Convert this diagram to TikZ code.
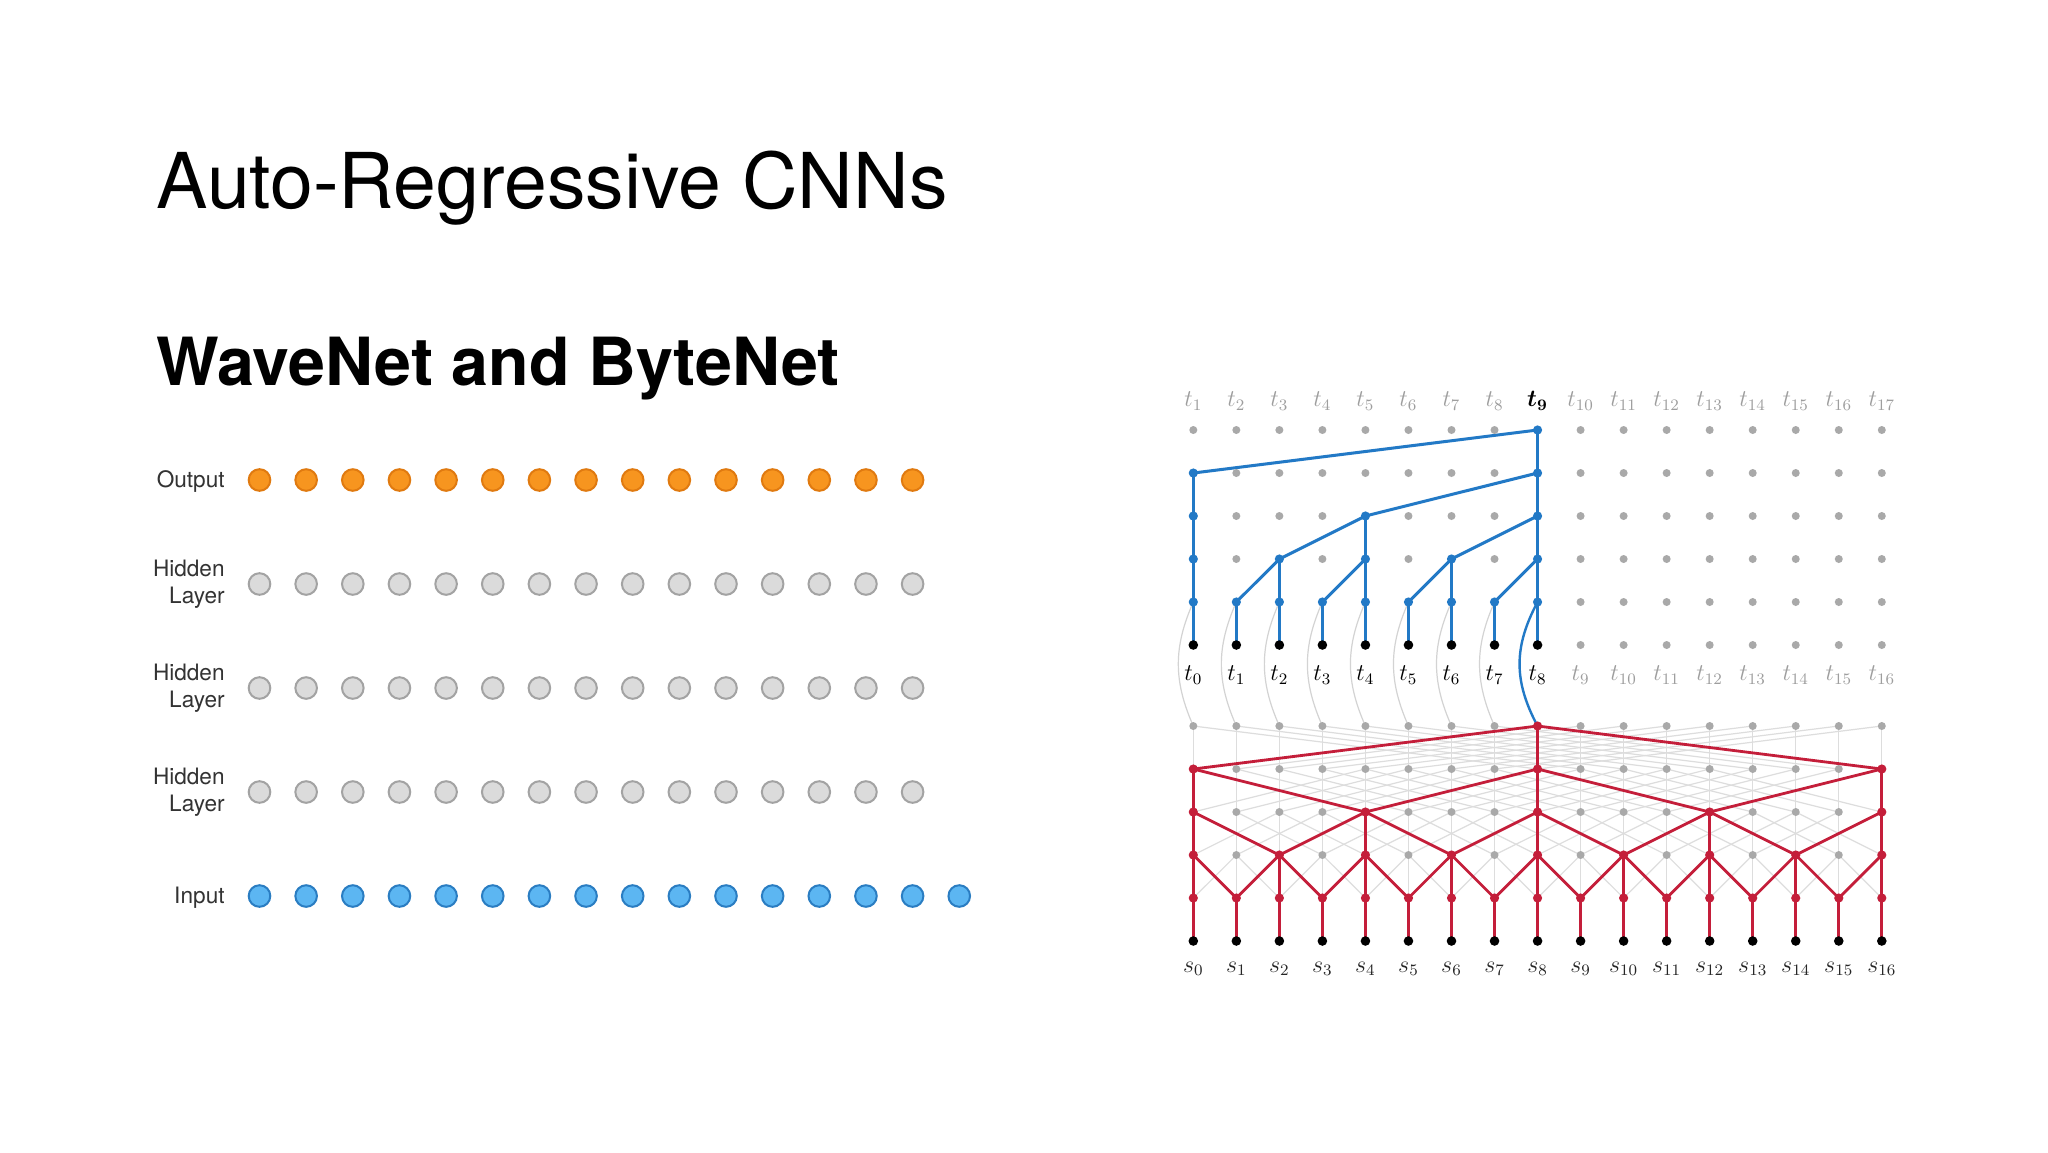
\documentclass[tikz,border=0pt]{standalone}
\usepackage{fontspec}
\setsansfont{TeX Gyre Heros}
\usepackage{bm}
\pgfdeclarelayer{lat}
\pgfdeclarelayer{col}
\pgfdeclarelayer{paper}
\pgfsetlayers{paper,lat,col,main}
\definecolor{ofill}{HTML}{F7951F}
\definecolor{odraw}{HTML}{E07A10}
\definecolor{gfill}{HTML}{DBDBDB}
\definecolor{gdraw}{HTML}{A3A3A3}
\definecolor{bfill}{HTML}{5CB6F2}
\definecolor{bdraw}{HTML}{2A7DC2}
\definecolor{wblue}{HTML}{2279C6}
\definecolor{bred}{HTML}{C41E3A}
\definecolor{dotgrey}{HTML}{A9A9A9}
\definecolor{latgrey}{HTML}{DDDDDD}
\definecolor{curvegrey}{HTML}{D3D3D3}
\definecolor{lbltext}{HTML}{333333}
\definecolor{lblgrey}{HTML}{9E9E9E}
\begin{document}
\begin{tikzpicture}[x=0.5pt,y=-0.5pt,
  lbl/.style={font=\fontsize{11.3}{13.5}\selectfont\sffamily, text=lbltext, inner sep=0pt},
  obig/.style={circle, minimum size=10.8pt, inner sep=0pt, line width=1pt, fill=ofill, draw=odraw},
  gbig/.style={obig, fill=gfill, draw=gdraw},
  ibig/.style={obig, fill=bfill, draw=bdraw},
  gdot/.style={circle, minimum size=4pt, inner sep=0pt, fill=dotgrey},
  bdot/.style={circle, minimum size=4.6pt, inner sep=0pt, fill=wblue},
  rdot/.style={circle, minimum size=4.6pt, inner sep=0pt, fill=bred},
  kdot/.style={circle, minimum size=4.8pt, inner sep=0pt, fill=black},
  mlbl/.style={font=\fontsize{12}{14}\selectfont, inner sep=0pt},
  bline/.style={wblue, line width=1.5pt},
  rline/.style={bred, line width=1.4pt},
  latline/.style={latgrey, line width=0.6pt},
  crv/.style={curvegrey, line width=0.6pt},
]
\begin{pgfonlayer}{paper}
\fill[white] (0,0) rectangle (2048,1152);
\end{pgfonlayer}
\useasboundingbox (0,0) rectangle (2048,1152);

% titles
\node[anchor=base west, inner sep=0pt, font=\fontsize{38.5}{44}\selectfont\sffamily] (title) at (156,208) {Auto-Regressive CNNs};
\node[anchor=base west, inner sep=0pt, font=\fontsize{33.2}{38}\selectfont\sffamily\bfseries] (subtitle) at (156,385) {WaveNet and ByteNet};

% ---------- left: WaveNet layers ----------
\foreach \k in {0,...,14}{
  \node[obig] (out\k) at ({259.5+46.65*\k},480) {};
  \node[gbig] (ha\k) at ({259.5+46.65*\k},584) {};
  \node[gbig] (hb\k) at ({259.5+46.65*\k},688) {};
  \node[gbig] (hc\k) at ({259.5+46.65*\k},792) {};
}
\foreach \k in {0,...,15}{
  \node[ibig] (inp\k) at ({259.5+46.65*\k},896) {};
}
\node[lbl, anchor=base east] (lout) at (225,487) {Output};
\node[lbl, anchor=east, align=right] (lha) at (225,584) {Hidden\\Layer};
\node[lbl, anchor=east, align=right] (lhb) at (225,688) {Hidden\\Layer};
\node[lbl, anchor=east, align=right] (lhc) at (225,792) {Hidden\\Layer};
\node[lbl, anchor=base east] (lin) at (225,903) {Input};

% ---------- right: ByteNet ----------
% decoder dots
\foreach \r in {0,...,5}{
  \foreach \c in {0,...,16}{
    \pgfmathsetmacro\xx{1193.3+43.03*\c}
    \pgfmathsetmacro\yy{430+43*\r}
    \pgfmathtruncatemacro\kind{ifthenelse(\r==5, ifthenelse(\c<9,2,0), ifthenelse(\r==0, ifthenelse(\c==8,1,0), ifthenelse(\c<9, ifthenelse(mod(\c,2^(4-\r))==0,1,0),0)))}
    \ifcase\kind
      \node[gdot] (d-\r-\c) at (\xx,\yy) {};
    \or
      \node[bdot] (d-\r-\c) at (\xx,\yy) {};
    \or
      \node[kdot] (d-\r-\c) at (\xx,\yy) {};
    \fi
  }
}
% encoder dots
\foreach \r in {0,...,5}{
  \foreach \c in {0,...,16}{
    \pgfmathsetmacro\xx{1193.3+43.03*\c}
    \pgfmathsetmacro\yy{726+43*\r}
    \pgfmathtruncatemacro\kind{ifthenelse(\r==5, 2, ifthenelse(\r==0, ifthenelse(\c==8,1,0), ifthenelse(mod(\c,2^(4-\r))==0,1,0)))}
    \ifcase\kind
      \node[gdot] (e-\r-\c) at (\xx,\yy) {};
    \or
      \node[rdot] (e-\r-\c) at (\xx,\yy) {};
    \or
      \node[kdot] (e-\r-\c) at (\xx,\yy) {};
    \fi
  }
}

% labels
\foreach \c in {0,...,16}{
  \pgfmathtruncatemacro\n{\c+1}
  \ifnum\c=8
    \node[mlbl] (tt\c) at ({1193.3+43.03*\c},401) {$\bm{t_{9}}$};
  \else
    \node[mlbl, text=lblgrey] (tt\c) at ({1193.3+43.03*\c},401) {$t_{\n}$};
  \fi
  \ifnum\c<9
    \node[mlbl] (tb\c) at ({1193.3+43.03*\c},675) {$t_{\c}$};
  \else
    \node[mlbl, text=lblgrey] (tb\c) at ({1193.3+43.03*\c},675) {$t_{\c}$};
  \fi
  \node[mlbl, text=black!85] (s\c) at ({1193.3+43.03*\c},969) {$s_{\c}$};
}

% grey lattice and curves
\begin{pgfonlayer}{lat}
  \foreach \c in {0,...,16}{
    \draw[latline] (e-0-\c.center) -- (e-5-\c.center);
  }
  \foreach \r in {0,...,3}{
    \pgfmathtruncatemacro\dd{2^(3-\r)}
    \pgfmathtruncatemacro\rr{\r+1}
    \foreach \c in {0,...,16}{
      \pgfmathtruncatemacro\lft{\c-\dd}
      \pgfmathtruncatemacro\rgt{\c+\dd}
      \ifnum\lft>-1 \draw[latline] (e-\r-\c.center) -- (e-\rr-\lft.center); \fi
      \ifnum\rgt<17 \draw[latline] (e-\r-\c.center) -- (e-\rr-\rgt.center); \fi
    }
  }
  \foreach \c in {0,...,7}{
    \draw[crv] (d-4-\c.center) .. controls +(-20,45) and +(-20,-45) .. (e-0-\c.center);
  }
\end{pgfonlayer}

% coloured connections
\begin{pgfonlayer}{col}
  \foreach \c/\s in {0/1,1/4,2/3,3/4,4/2,5/4,6/3,7/4,8/0}{
    \draw[bline] (d-\s-\c.center) -- (d-5-\c.center);
  }
  \foreach \a/\b in {0-8/1-0,1-8/2-4,2-4/3-2,2-8/3-6,3-2/4-1,3-4/4-3,3-6/4-5,3-8/4-7}{
    \draw[bline] (d-\a.center) -- (d-\b.center);
  }
  \draw[wblue, line width=1.2pt] (d-4-8.center) .. controls +(-24,45) and +(-24,-45) .. (e-0-8.center);
  \foreach \c/\s in {0/1,1/4,2/3,3/4,4/2,5/4,6/3,7/4,8/0,9/4,10/3,11/4,12/2,13/4,14/3,15/4,16/1}{
    \draw[rline] (e-\s-\c.center) -- (e-5-\c.center);
  }
  \foreach \a/\b in {0-8/1-0,0-8/1-16,1-0/2-4,1-8/2-4,1-8/2-12,1-16/2-12,2-0/3-2,2-4/3-2,2-4/3-6,2-8/3-6,2-8/3-10,2-12/3-10,2-12/3-14,2-16/3-14}{
    \draw[rline] (e-\a.center) -- (e-\b.center);
  }
  \foreach \c in {0,2,...,16}{
    \pgfmathtruncatemacro\lft{\c-1}
    \pgfmathtruncatemacro\rgt{\c+1}
    \ifnum\lft>-1 \draw[rline] (e-3-\c.center) -- (e-4-\lft.center); \fi
    \ifnum\rgt<17 \draw[rline] (e-3-\c.center) -- (e-4-\rgt.center); \fi
  }
\end{pgfonlayer}
\end{tikzpicture}
\end{document}
